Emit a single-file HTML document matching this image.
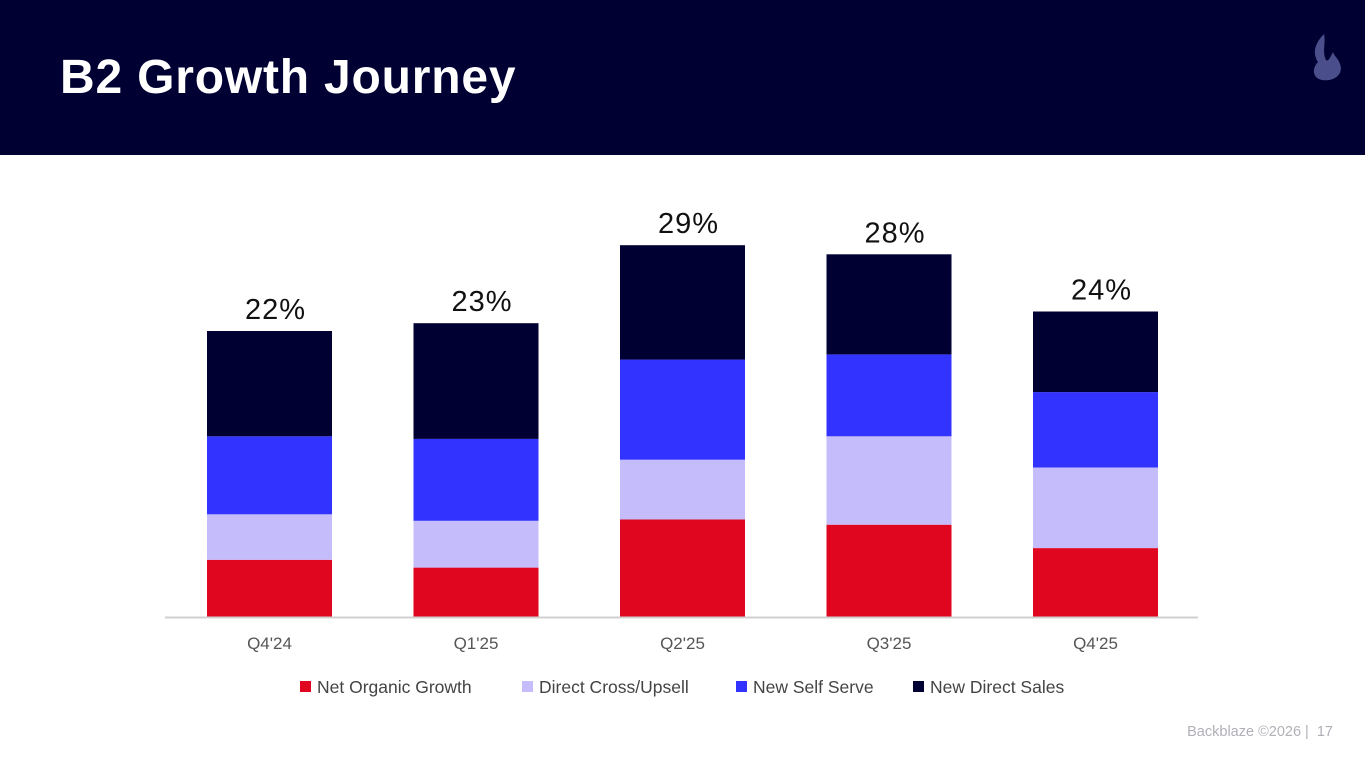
<!DOCTYPE html>
<html><head><meta charset="utf-8"><style>
body{margin:0;width:1365px;height:768px;overflow:hidden;background:#fff;font-family:"Liberation Sans",sans-serif;}
#hdr{position:absolute;left:0;top:0;width:1365px;height:155px;background:#000033;}
#title{position:absolute;left:60px;top:50px;color:#fff;font-size:48px;font-weight:bold;letter-spacing:0.8px;}
#footer{position:absolute;right:32px;top:724px;color:#b0b0b8;font-size:14.5px;}
svg{position:absolute;left:0;top:0;}
</style></head><body>
<div id="hdr">
<div id="title">B2 Growth Journey</div>
<svg width="1365" height="155">
<path d="M1324 34 C1312 46 1314 56 1318 62 C1312 68 1312 78 1322 80 C1334 82 1344 74 1340 64 C1338 58 1334 56 1333 52 C1330 58 1328 62 1326 60 C1322 52 1326 42 1324 34Z" fill="#4a4f8c"/>
</svg>
</div>
<svg id="chart" width="1365" height="768"></svg>
<div id="footer">Backblaze ©2026 |&nbsp; 17</div>
<script>
const categories=["Q4'24","Q1'25","Q2'25","Q3'25","Q4'25"];
const netOrganic=[4.4,3.8,7.5,7.1,5.3];
const crossUpsell=[3.5,3.6,4.6,6.8,6.2];
const selfServe=[6.0,6.3,7.7,6.3,5.8];
const directSales=[8.1,8.9,8.8,7.7,6.2];
const totalLabels=["22%","23%","29%","28%","24%"];
const seriesNames=["Net Organic Growth","Direct Cross/Upsell","New Self Serve","New Direct Sales"];
const colors=["#e1061f","#c5bcfb","#3333ff","#000033"];
const series=[netOrganic,crossUpsell,selfServe,directSales];
const NS="http://www.w3.org/2000/svg";
const svg=document.getElementById('chart');
const baseY=617,pxPer=13,x0=269.5,step=206.5,bw=125;
function y(v){return baseY-v*pxPer;}
function xc(i){return x0+i*step;}
function mk(t,a){const e=document.createElementNS(NS,t);for(const k in a)e.setAttribute(k,a[k]);svg.appendChild(e);return e;}
categories.forEach((c,i)=>{
 let acc=0;
 series.forEach((s,j)=>{
  const r=mk('rect',{x:xc(i)-bw/2,y:y(acc+s[i]),width:bw,height:s[i]*pxPer,fill:colors[j]});
  
  
  acc+=s[i];
 });
 const t=mk('text',{x:xc(i)+6,y:y(acc)-12,'text-anchor':'middle','font-size':29,fill:'#111','letter-spacing':1});
 t.textContent=totalLabels[i];
 
 
 const l=mk('text',{x:xc(i),y:649,'text-anchor':'middle','font-size':17,fill:'#555'});
 l.textContent=c;
 
 
});
const ax=mk('line',{x1:165,x2:1198,y1:baseY+0.5,y2:baseY+0.5,stroke:'#d0d0d0','stroke-width':2});


const lx=[300,522,736,913];
seriesNames.forEach((n,j)=>{
 const r=mk('rect',{x:lx[j],y:681,width:11,height:11,fill:colors[j]});
 
 
 const t=mk('text',{x:lx[j]+17,y:693,'font-size':17.5,fill:'#444'});
 t.textContent=n;
 
 
});
</script>
</body></html>
